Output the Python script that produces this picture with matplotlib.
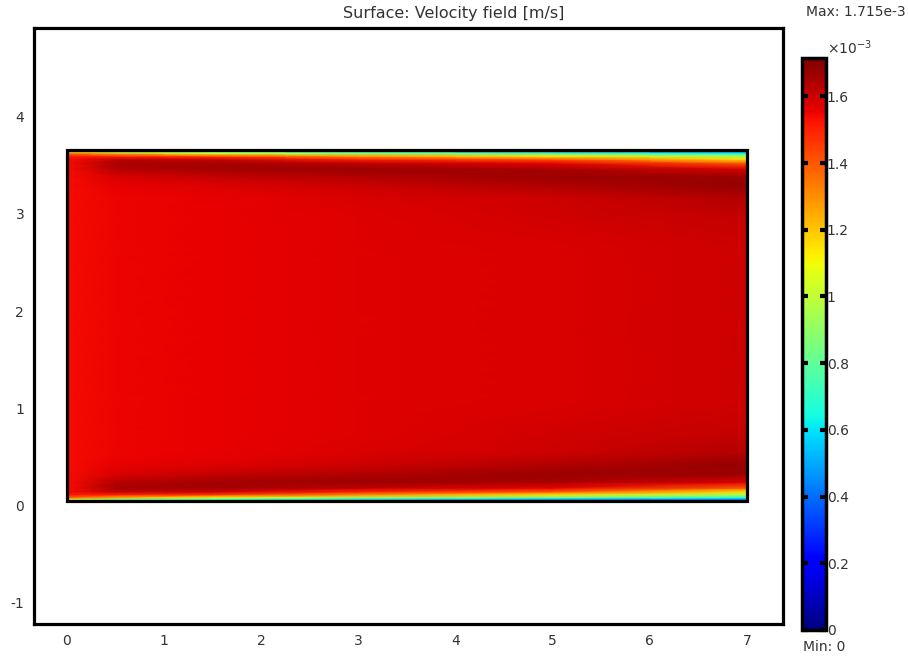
import numpy as np
import matplotlib
matplotlib.use("Agg")
import matplotlib.pyplot as plt
from matplotlib.patches import Rectangle
from matplotlib.transforms import ScaledTranslation

# Channel geometry [m]
channel_length = 7.0
channel_height = 3.62

# Stations along the channel where the cross-channel speed profile is given [m]
x_stations = [0.0, 0.5, 1.5, 3.0, 5.0, 7.0]
# Distance from the nearest wall (profile is mirrored about the centreline) [m]
wall_dist = [0.0, 0.02, 0.04, 0.07, 0.10, 0.14, 0.20, 0.28, 0.38, 0.50, 0.70, 1.00, 1.81]

# Speed magnitude at each station, in units of 1e-3 m/s
speed_x00 = [0.0, 1.00, 1.38, 1.52, 1.54, 1.54, 1.54, 1.54, 1.54, 1.54, 1.54, 1.54, 1.54]
speed_x05 = [0.0, 0.80, 1.25, 1.50, 1.61, 1.65, 1.63, 1.58, 1.56, 1.55, 1.55, 1.55, 1.55]
speed_x15 = [0.0, 0.65, 1.10, 1.45, 1.60, 1.66, 1.66, 1.61, 1.57, 1.56, 1.56, 1.56, 1.56]
speed_x30 = [0.0, 0.55, 0.95, 1.30, 1.50, 1.62, 1.67, 1.64, 1.60, 1.58, 1.57, 1.57, 1.57]
speed_x50 = [0.0, 0.45, 0.80, 1.15, 1.40, 1.56, 1.65, 1.67, 1.64, 1.60, 1.59, 1.58, 1.58]
speed_x70 = [0.0, 0.40, 0.65, 0.95, 1.15, 1.40, 1.58, 1.67, 1.68, 1.64, 1.61, 1.60, 1.60]

v_min = 0.0
v_max = 1.715

cbar_ticks = [0.0, 0.2, 0.4, 0.6, 0.8, 1.0, 1.2, 1.4, 1.6]
cbar_labels = ["0", "0.2", "0.4", "0.6", "0.8", "1", "1.2", "1.4", "1.6"]
x_ticks = [0, 1, 2, 3, 4, 5, 6, 7]
y_ticks = [-1, 0, 1, 2, 3, 4]

# ---- assemble the 2-D field over the channel -----------------------------
d = np.asarray(wall_dist)
y_nodes = np.concatenate([d, channel_height - d[::-1][1:]])
profiles = [speed_x00, speed_x05, speed_x15, speed_x30, speed_x50, speed_x70]
columns = []
for p in profiles:
    p = np.asarray(p)
    columns.append(np.concatenate([p, p[::-1][1:]]))
V = np.column_stack(columns)
X, Y = np.meshgrid(np.asarray(x_stations), y_nodes)

plt.rcParams["font.family"] = ["DejaVu Sans"]
text_color = "#333333"
fs = 10

fig = plt.figure(figsize=(9.08, 6.58), dpi=100)
ax = fig.add_axes([0.0374, 0.0517, 0.8249, 0.9057])

mesh = ax.pcolormesh(X, Y, V, shading="gouraud", cmap="jet",
                     vmin=v_min, vmax=v_max, rasterized=True)
ax.add_patch(Rectangle((0, 0), channel_length, channel_height, fill=False,
                       edgecolor="black", linewidth=2.3, zorder=5))

ax.set_xlim(-0.34, 7.37)
ax.set_ylim(-1.26, 4.87)
ax.set_xticks(x_ticks)
ax.set_yticks(y_ticks)
ax.set_xticklabels([str(v) for v in x_ticks])
ax.set_yticklabels([str(v) for v in y_ticks])
ax.tick_params(length=0, pad=7, labelcolor=text_color, labelsize=fs)
for lab in ax.get_yticklabels():
    lab.set_transform(lab.get_transform() + ScaledTranslation(0, -4 / 100, fig.dpi_scale_trans))
for s in ax.spines.values():
    s.set_linewidth(2.3)

fig.text(0.5, 0.979, "Surface: Velocity field [m/s]", ha="center", va="center",
         color=text_color, fontsize=11.5)

# colour bar
cax = fig.add_axes([0.8833, 0.0426, 0.0264, 0.8693])
cb = fig.colorbar(mesh, cax=cax)
cb.outline.set_linewidth(2.5)
cb.set_ticks(cbar_ticks)
cb.set_ticklabels(cbar_labels)
cax.tick_params(axis="y", direction="in", length=4, width=3, left=True, right=True,
                labelleft=False, labelright=True, pad=0.5,
                labelcolor=text_color, labelsize=fs)

fig.text(0.997, 0.982, "Max: 1.715e-3", ha="right", va="center",
         color=text_color, fontsize=fs)
fig.text(0.911, 0.928, "\u00d710$^{-3}$", ha="left", va="center",
         color=text_color, fontsize=fs)
fig.text(0.884, 0.016, "Min: 0", ha="left", va="center",
         color=text_color, fontsize=fs)

fig.savefig("out.png", dpi=100)
